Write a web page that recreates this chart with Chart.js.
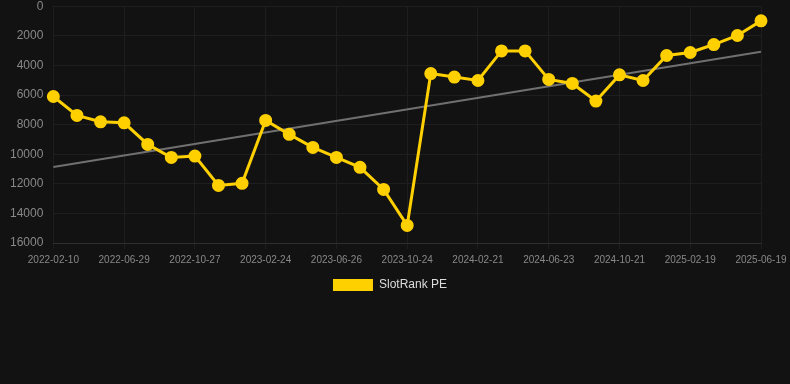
<!DOCTYPE html>
<html>
<head>
<meta charset="utf-8">
<script src="https://cdn.jsdelivr.net/npm/chart.js@4/dist/chart.umd.min.js"></script>
<style>
html,body{margin:0;padding:0;background:#121212;overflow:hidden;}
#wrap{position:relative;width:790px;height:312px;margin-top:-11px;}
</style>
</head>
<body>
<div id="wrap"><canvas id="c"></canvas></div>
<script>
const categories = ["2022-02-10","2022-03-28","2022-05-13","2022-06-29","2022-08-08","2022-09-17","2022-10-27","2022-12-05","2023-01-14","2023-02-24","2023-04-06","2023-05-16","2023-06-26","2023-08-04","2023-09-14","2023-10-24","2023-12-01","2024-01-11","2024-02-21","2024-03-31","2024-05-13","2024-06-23","2024-08-01","2024-09-11","2024-10-21","2024-11-30","2025-01-09","2025-02-19","2025-03-30","2025-05-10","2025-06-19"];
const slotRankPE = [6100,7380,7810,7880,9340,10220,10130,12110,11970,7720,8660,9540,10220,10890,12380,14810,4550,4790,5020,3020,3020,4950,5220,6410,4640,5020,3330,3130,2590,1980,990];
const trendStart = 10870;
const trendEnd = 3080;
const trend = categories.map((c,i)=> i===0 ? trendStart : (i===categories.length-1 ? trendEnd : null));
const yTicks = [0,2000,4000,6000,8000,10000,12000,14000,16000];

new Chart(document.getElementById('c'), {
  type: 'line',
  data: {
    labels: categories,
    datasets: [
      {
        label: 'SlotRank PE',
        data: slotRankPE,
        borderColor: '#FFD000',
        backgroundColor: '#FFD000',
        borderWidth: 3,
        pointRadius: 5,
        pointHoverRadius: 5,
        pointBackgroundColor: '#FFD000',
        pointBorderColor: '#FFD000',
        tension: 0,
        order: 1
      },
      {
        label: 'trend',
        data: trend,
        borderColor: '#707070',
        backgroundColor: '#707070',
        borderWidth: 2,
        pointRadius: 0,
        spanGaps: true,
        order: 2
      }
    ]
  },
  options: {
    responsive: true,
    maintainAspectRatio: false,
    animation: false,
    layout: {padding: {top: 0, right: 10, left: 0, bottom: 0}},
    plugins: {
      legend: {
        position: 'bottom',
        labels: {
          color: '#dddddd',
          font: {family: 'Liberation Sans, Arial', size: 12},
          boxWidth: 40,
          boxHeight: 12,
          padding: 8,
          generateLabels: (chart) => Chart.defaults.plugins.legend.labels.generateLabels(chart)
            .filter(it => it.text === 'SlotRank PE')
            .map(it => Object.assign(it, {lineWidth: 0}))
        }
      },
      tooltip: {enabled: false}
    },
    scales: {
      x: {
        offset: false,
        afterFit: (scale) => { scale.paddingRight = 29; },
        grid: {
          color: (ctx) => (ctx.index % 3 === 0 ? '#1e1e1e' : 'rgba(0,0,0,0)'),
          tickLength: 6
        },
        border: {color: '#2e2e2e'},
        ticks: {
          color: '#888888',
          font: {family: 'Liberation Sans, Arial', size: 10},
          autoSkip: false,
          maxRotation: 0,
          minRotation: 0,
          padding: 5,
          callback: function(v, i) { return i % 3 === 0 ? categories[i] : ''; }
        }
      },
      y: {
        reverse: true,
        min: 0,
        max: 16000,
        afterBuildTicks: (axis) => { axis.ticks = yTicks.map(v => ({value: v})); },
        grid: {color: '#1e1e1e', drawTicks: false},
        border: {display: false},
        ticks: {
          color: '#888888',
          font: {family: 'Liberation Sans, Arial', size: 12},
          padding: 10,
          callback: (v) => String(v)
        }
      }
    }
  }
});
</script>
</body>
</html>
